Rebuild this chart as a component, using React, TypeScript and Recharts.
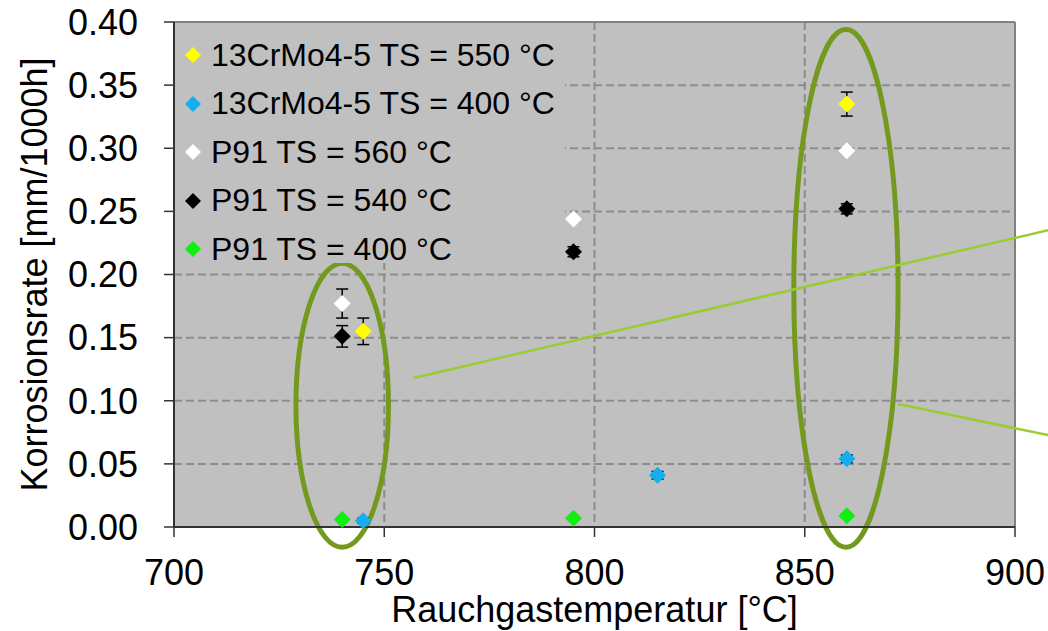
import {
    ScatterChart,
    Scatter,
    XAxis,
    YAxis,
    CartesianGrid,
    ErrorBar,
    ReferenceArea,
    ReferenceLine,
} from "recharts";

const xTicks = [700, 750, 800, 850, 900];
const yTicks = [0, 0.05, 0.1, 0.15, 0.2, 0.25, 0.3, 0.35, 0.4];

// 13CrMo4-5, TS = 550 °C
const crMo550Temp = [745, 860];
const crMo550Rate = [0.155, 0.335];
const crMo550Err = [0.0105, 0.0095];

// 13CrMo4-5, TS = 400 °C
const crMo400Temp = [745, 815, 860];
const crMo400Rate = [0.005, 0.041, 0.054];
const crMo400Err = [0.002, 0.003, 0.003];

// P91, TS = 560 °C
const p91_560Temp = [740, 795, 860];
const p91_560Rate = [0.177, 0.244, 0.298];
const p91_560Err = [0.0115, 0, 0];

// P91, TS = 540 °C
const p91_540Temp = [740, 795, 860];
const p91_540Rate = [0.151, 0.218, 0.252];
const p91_540Err = [0.0085, 0.004, 0.004];

// P91, TS = 400 °C
const p91_400Temp = [740, 795, 860];
const p91_400Rate = [0.006, 0.007, 0.009];
const p91_400Err = [0, 0, 0];

const toPoints = (xs: number[], ys: number[], errs: number[]) =>
    xs.map((x, i) => ({ x, y: ys[i], err: errs[i] }));

const series = [
    { name: "13CrMo4-5 TS = 550 °C", color: "#FFFF00", data: toPoints(crMo550Temp, crMo550Rate, crMo550Err) },
    { name: "13CrMo4-5 TS = 400 °C", color: "#14AEEF", data: toPoints(crMo400Temp, crMo400Rate, crMo400Err) },
    { name: "P91 TS = 560 °C", color: "#FFFFFF", data: toPoints(p91_560Temp, p91_560Rate, p91_560Err) },
    { name: "P91 TS = 540 °C", color: "#000000", data: toPoints(p91_540Temp, p91_540Rate, p91_540Err) },
    { name: "P91 TS = 400 °C", color: "#11EE11", data: toPoints(p91_400Temp, p91_400Rate, p91_400Err) },
];

// highlight ellipses (data extents) and callout lines
const ellipses = [
    { x1: 729, x2: 751, y1: -0.016, y2: 0.209 },
    { x1: 847.4, x2: 872.2, y1: -0.016, y2: 0.394 },
];
const callouts = [
    [{ x: 757, y: 0.118 }, { x: 908, y: 0.2352 }],
    [{ x: 872.2, y: 0.0974 }, { x: 908, y: 0.0727 }],
];

const FONT = '"Liberation Sans", Arial, sans-serif';
const ELLIPSE_GREEN = "#739A1F";
const LINE_GREEN = "#99CC33";

const diamond = (color: string, r: number) => (props: any) => {
    const { cx, cy } = props;
    if (cx == null || cy == null) return <g />;
    return (
        <path
            d={`M${cx},${cy - r}L${cx + r},${cy}L${cx},${cy + r}L${cx - r},${cy}Z`}
            fill={color}
        />
    );
};

const ellipseShape = (props: any) => {
    const { x, y, width, height } = props;
    return (
        <ellipse
            cx={x + width / 2}
            cy={y + height / 2}
            rx={Math.abs(width) / 2}
            ry={Math.abs(height) / 2}
            fill="none"
            stroke={ELLIPSE_GREEN}
            strokeWidth={5}
        />
    );
};

// legend box overlaid on the top-left of the plot area
const LegendBox = () => (
    <div
        style={{
            position: "absolute",
            left: 175,
            top: 23,
            background: "#C0C0C0",
            width: 390,
            height: 240,
            paddingTop: 8,
            boxSizing: "border-box",
            fontFamily: FONT,
            fontSize: 32,
            color: "#000",
        }}
    >
        {series.map((s) => (
            <div key={s.name} style={{ height: 48.5, display: "flex", alignItems: "center" }}>
                <svg width={36} height={20} style={{ flex: "none" }}>
                    <path d="M18,2L26,10L18,18L10,10Z" fill={s.color} />
                </svg>
                <span style={{ whiteSpace: "nowrap" }}>{s.name}</span>
            </div>
        ))}
    </div>
);

const App = () => {
    return (
        <div style={{ position: "absolute", left: 0, top: 0, width: 1048, height: 631, background: "#fff" }}>
            <ScatterChart
                width={1048}
                height={631}
                margin={{ top: 22, right: 33, left: 0, bottom: 0 }}
                style={{ fontFamily: FONT }}
            >
                <CartesianGrid
                    fill="#C0C0C0"
                    stroke="#8C8C8C"
                    strokeWidth={2}
                    strokeDasharray="8 4"
                />
                <XAxis
                    type="number"
                    dataKey="x"
                    domain={[700, 900]}
                    ticks={xTicks}
                    height={104}
                    tickSize={10}
                    tickMargin={22}
                    axisLine={{ stroke: "#333", strokeWidth: 2 }}
                    tickLine={{ stroke: "#333", strokeWidth: 1.5 }}
                    tick={{ fill: "#000", fontSize: 36, fontFamily: FONT }}
                    label={(p: any) => {
                        const vb = p.viewBox;
                        return (
                            <text
                                x={vb.x + vb.width / 2}
                                y={622}
                                textAnchor="middle"
                                fontSize={36}
                                fontFamily={FONT}
                                fill="#000"
                            >
                                Rauchgastemperatur [°C]
                            </text>
                        );
                    }}
                />
                <YAxis
                    type="number"
                    dataKey="y"
                    domain={[0, 0.4]}
                    ticks={yTicks}
                    width={174}
                    tickSize={10}
                    tickMargin={26}
                    tickFormatter={(v: number) => v.toFixed(2)}
                    axisLine={{ stroke: "#333", strokeWidth: 2 }}
                    tickLine={{ stroke: "#333", strokeWidth: 1.5 }}
                    tick={{ fill: "#000", fontSize: 36, fontFamily: FONT }}
                    label={(p: any) => {
                        const vb = p.viewBox;
                        const cy = vb.y + vb.height / 2;
                        return (
                            <text
                                x={47}
                                y={cy}
                                transform={`rotate(-90, 47, ${cy})`}
                                textAnchor="middle"
                                fontSize={36}
                                fontFamily={FONT}
                                fill="#000"
                            >
                                Korrosionsrate [mm/1000h]
                            </text>
                        );
                    }}
                />
                <ReferenceLine y={0.4} stroke="#808080" strokeWidth={2} />
                <ReferenceLine x={900} stroke="#808080" strokeWidth={2} />
                {series.map((s) => (
                    <Scatter
                        key={s.name}
                        name={s.name}
                        data={s.data}
                        fill={s.color}
                        shape={diamond(s.color, 8.5)}
                        isAnimationActive={false}
                    >
                        <ErrorBar
                            dataKey="err"
                            direction="y"
                            width={6}
                            stroke="#000"
                            strokeWidth={1.5}
                            isAnimationActive={false}
                        />
                    </Scatter>
                ))}
                {ellipses.map((e, i) => (
                    <ReferenceArea
                        key={`ell-${i}`}
                        x1={e.x1}
                        x2={e.x2}
                        y1={e.y1}
                        y2={e.y2}
                        ifOverflow="visible"
                        shape={ellipseShape}
                    />
                ))}
                {callouts.map((seg, i) => (
                    <ReferenceLine
                        key={`call-${i}`}
                        segment={seg}
                        ifOverflow="visible"
                        stroke={LINE_GREEN}
                        strokeWidth={2.5}
                    />
                ))}
            </ScatterChart>
            <LegendBox />
        </div>
    );
};

export default App;
